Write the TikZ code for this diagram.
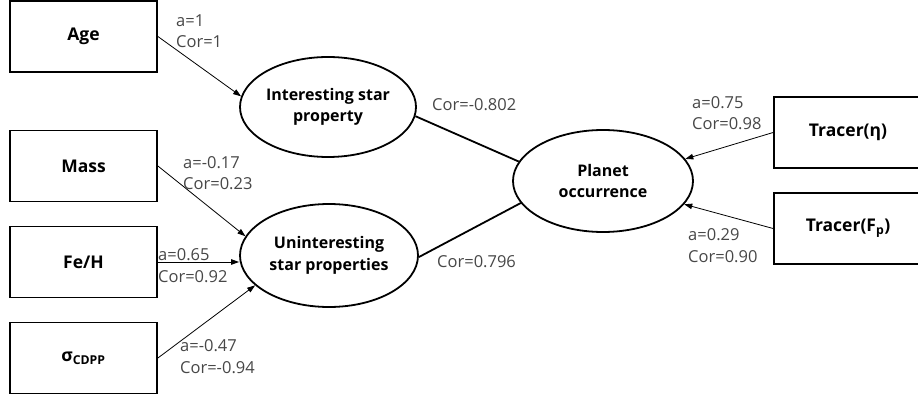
\documentclass[tikz,border=0pt]{standalone}
\usepackage{fontspec}
\setmainfont{Open Sans}
\usetikzlibrary{shapes.geometric,arrows.meta}

\tikzset{
  varbox/.style={draw, line width=1.8pt, minimum width=147pt, minimum height=71pt,
    font=\fontsize{17.5}{22}\selectfont\bfseries},
  latent/.style={draw, ellipse, line width=1.8pt, inner sep=0pt, align=center,
    font=\fontsize{16}{21.5}\selectfont\bfseries},
  coef/.style={anchor=base west, inner sep=0pt, align=left, text=black!72,
    font=\fontsize{16.5}{21.5}\selectfont},
  loading/.style={-{Triangle[length=8pt,width=5.5pt]}, line width=0.8pt},
  linkline/.style={line width=1.8pt}
}

\begin{document}
\begin{tikzpicture}[x=1pt,y=-1pt]
\useasboundingbox (0,0) rectangle (918,398);

% observed variables
\node[varbox] (age)   at (83.5,36.5) {Age};
\node[varbox] (mass)  at (83.5,166)  {Mass};
\node[varbox] (feh)   at (83.5,262)  {Fe/H};
\node[varbox] (cdpp)  at (83.5,358)  {σ\textsubscript{CDPP}};
\node[varbox, minimum width=148pt] (teta) at (848,132.5) {Tracer(η)};
\node[varbox, minimum width=148pt] (tfp)  at (848,228.5) {Tracer(F\textsubscript{p})};

% latent variables
\node[latent, minimum width=176pt, minimum height=100pt] (int)   at (328,107)   {Interesting star\\property};
\node[latent, minimum width=178pt, minimum height=103pt] (unint) at (329,255.5) {Uninteresting\\star properties};
\node[latent, minimum width=180pt, minimum height=102pt] (planet) at (603,181)  {Planet\\occurrence};

% loadings
\draw[loading] (age.east)  -- (int.173);
\draw[loading] (mass.east) -- (unint.167);
\draw[loading] (feh.east)  -- (feh.east -| unint.west);
\draw[loading] (cdpp.east) -- (unint.202);
\draw[loading] (teta.west) -- (planet.15);
\draw[loading] (tfp.west)  -- (planet.344);

% structural links
\draw[linkline] (int.354)   -- (planet.167);
\draw[linkline] (unint.359) -- (planet.195);

% coefficients (base = last line)
\node[coef] (cage)  at (176,48)  {a=1\\Cor=1};
\node[coef] (cmass) at (183,190) {a=-0.17\\Cor=0.23};
\node[coef] (cfeh)  at (158,282) {a=0.65\\Cor=0.92};
\node[coef] (ccdpp) at (180,373) {a=-0.47\\Cor=-0.94};
\node[coef] (cint)  at (432,111) {Cor=-0.802};
\node[coef] (cunint) at (437,267) {Cor=0.796};
\node[coef] (ceta)  at (692,130) {a=0.75\\Cor=0.98};
\node[coef] (cfp)   at (688,262) {a=0.29\\Cor=0.90};
\end{tikzpicture}
\end{document}
